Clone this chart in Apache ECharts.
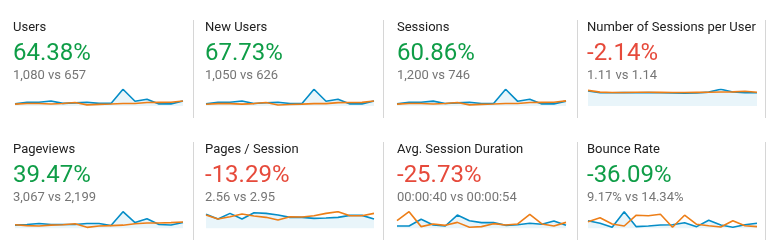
<!DOCTYPE html>
<html>
<head>
<meta charset="utf-8">
<script src="https://cdn.jsdelivr.net/npm/echarts@6/dist/echarts.min.js"></script>
<style>
html,body{margin:0;padding:0;background:#fff;}
#c{width:773px;height:240px;}
</style>
</head>
<body>
<div id="c"></div>
<script>
// ---- data ----
const titles = ["Users","New Users","Sessions","Number of Sessions per User","Pageviews","Pages / Session","Avg. Session Duration","Bounce Rate"];
const changes = ["64.38%","67.73%","60.86%","-2.14%","39.47%","-13.29%","-25.73%","-36.09%"];
const positive = [true,true,true,false,true,false,false,true];
const compares = ["1,080 vs 657","1,050 vs 626","1,200 vs 746","1.11 vs 1.14","3,067 vs 2,199","2.56 vs 2.95","00:00:40 vs 00:00:54","9.17% vs 14.34%"];
const days = ["1","2","3","4","5","6","7","8","9","10","11","12","13","14","15"];

const usersCur = [34,60,60,80,42,51,60,42,42,270,76,110,34,34,80];
const usersPrev = [30,40,40,32,40,56,18,26,32,40,40,56,58,60,82];
const newUsersCur = [33,58,58,78,40,50,58,40,40,262,74,106,33,33,78];
const newUsersPrev = [28,38,38,30,38,54,16,24,30,38,38,53,55,57,78];
const sessionsCur = [38,66,66,88,46,56,66,46,46,300,84,120,38,38,88];
const sessionsPrev = [34,46,46,37,46,64,20,30,37,46,46,64,66,68,92];
const spuCur = [1.24,1.10,1.10,1.11,1.10,1.12,1.10,1.07,1.06,1.08,1.15,1.38,1.16,1.10,1.10];
const spuPrev = [1.29,1.15,1.12,1.12,1.14,1.14,1.13,1.12,1.12,1.13,1.14,1.16,1.17,1.22,1.13];
const pvCur = [115,140,175,140,140,140,175,175,105,610,210,350,140,120,210];
const pvPrev = [130,100,85,115,130,165,35,85,100,115,165,195,195,210,230];
const ppsCur = [2.99,1.99,3.20,1.99,3.34,3.20,2.84,2.35,2.35,2.13,2.20,2.35,2.77,2.77,1.99];
const ppsPrev = [2.84,1.99,2.49,3.06,2.63,2.35,1.78,2.49,2.42,2.70,3.20,3.56,2.70,2.70,3.20];
const durCur = [18,18,70,26,18,103,59,44,44,23,28,39,31,57,23];
const durPrev = [59,129,13,34,23,46,8,13,36,26,34,108,34,18,46];
const bounceCur = [15,10,2,33,3.3,4.6,6.5,7.2,11,3.3,16,6.5,2,7.2,10];
const bouncePrev = [13,21,8.5,4.6,26,25,28,2,26,7.9,5.2,2.6,15,5.2,3.3];

const currentSeries = [usersCur,newUsersCur,sessionsCur,spuCur,pvCur,ppsCur,durCur,bounceCur];
const previousSeries = [usersPrev,newUsersPrev,sessionsPrev,spuPrev,pvPrev,ppsPrev,durPrev,bouncePrev];

// ---- layout ----
const textX = [13,205,397,587];
const sparkL = [15,206,397,588];
const sparkR = [183,374,566,757];
const rowTop = [89.3,211.7];
const rowBottom = [106,228.3];
const rowTextY = [[28,54,75.5],[150,176,197.5]];
const dividersX = [193.5,383.5,577.5,765.5];
const dividerY = [[20,118],[142,240]];

const BLUE = '#058dc7', ORANGE = '#ed7e17';
const GREEN = '#0f9d47', RED = '#e64a3b';

const grids = [], xAxes = [], yAxes = [], series = [], graphics = [];
for (let i = 0; i < 8; i++) {
  const r = Math.floor(i / 4), c = i % 4;
  grids.push({left: sparkL[c], width: sparkR[c] - sparkL[c], top: rowTop[r], height: rowBottom[r] - rowTop[r], containLabel: false});
  xAxes.push({type: 'category', gridIndex: i, data: days, boundaryGap: false, show: false});
  yAxes.push({type: 'value', gridIndex: i, min: 0, max: 'dataMax', show: false, splitLine: {show: false}});
  series.push({type: 'line', xAxisIndex: i, yAxisIndex: i, data: currentSeries[i], symbol: 'none', silent: true,
    lineStyle: {color: BLUE, width: 1.6}, itemStyle: {color: BLUE}, areaStyle: {color: 'rgba(5,141,199,0.12)', origin: 'start'}});
  series.push({type: 'line', xAxisIndex: i, yAxisIndex: i, data: previousSeries[i], symbol: 'none', silent: true,
    lineStyle: {color: ORANGE, width: 1.6}, itemStyle: {color: ORANGE}});
  const ty = rowTextY[r];
  graphics.push({type: 'text', x: textX[c], y: ty[0], style: {text: titles[i], fill: '#212121', font: '13px Roboto', textVerticalAlign: 'middle'}});
  graphics.push({type: 'text', x: textX[c], y: ty[1], style: {text: changes[i], fill: positive[i] ? GREEN : RED, font: '24px Roboto', textVerticalAlign: 'middle'}});
  graphics.push({type: 'text', x: textX[c], y: ty[2], style: {text: compares[i], fill: '#757575', font: '13px Roboto', textVerticalAlign: 'middle'}});
}
for (let r = 0; r < 2; r++) {
  for (let k = 0; k < dividersX.length; k++) {
    graphics.push({type: 'line', shape: {x1: dividersX[k], y1: dividerY[r][0], x2: dividersX[k], y2: dividerY[r][1]}, style: {stroke: '#d6d6d6', lineWidth: 1}, silent: true});
  }
}

const chart = echarts.init(document.getElementById('c'), null, {renderer: 'canvas'});
chart.setOption({
  animation: false,
  backgroundColor: '#fff',
  grid: grids, xAxis: xAxes, yAxis: yAxes, series: series,
  graphic: graphics
});
</script>
</body>
</html>
